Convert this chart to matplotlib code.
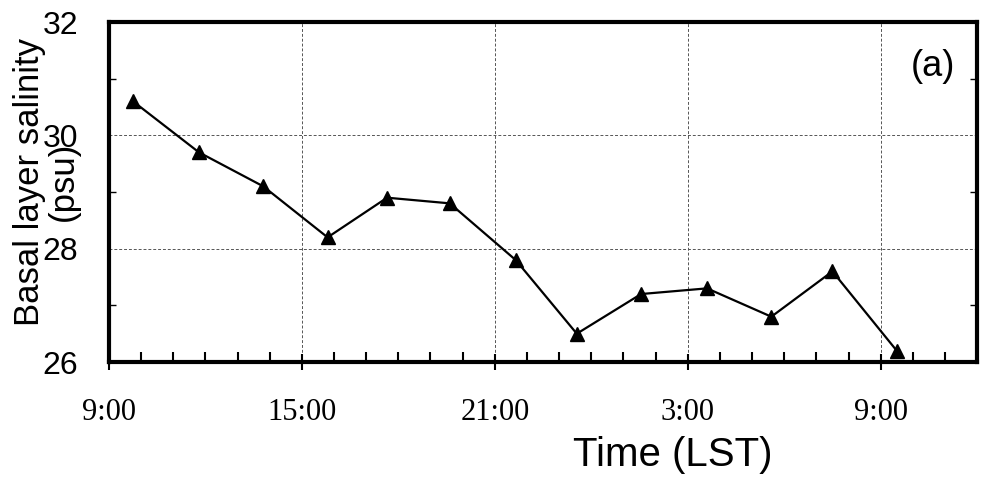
import numpy as np
import matplotlib
matplotlib.use('Agg')
import matplotlib.pyplot as plt
from matplotlib.ticker import MultipleLocator, FixedLocator

# elapsed hours since 9:00 LST on the first day
hours = [0.75, 2.8, 4.8, 6.8, 8.65, 10.6, 12.65, 14.55, 16.55, 18.6, 20.6, 22.5, 24.5]
salinity = [30.6, 29.7, 29.1, 28.2, 28.9, 28.8, 27.8, 26.5, 27.2, 27.3, 26.8, 27.6, 26.2]

tick_hours = [0, 6, 12, 18, 24]
tick_labels = ['9:00', '15:00', '21:00', '3:00', '9:00']
y_ticks = [26, 28, 30, 32]

sans = 'Liberation Sans'
serif = 'Liberation Serif'

fig = plt.figure(figsize=(9.86, 4.84), dpi=100)
ax = fig.add_axes([0.1105, 0.252, 0.8805, 0.7025])

ax.plot(hours, salinity, color='black', lw=1.6, marker='^', ms=10,
        mfc='black', mec='black', zorder=3)

ax.set_xlim(0, 27)
ax.set_ylim(26, 32)

ax.xaxis.set_major_locator(FixedLocator(tick_hours))
ax.xaxis.set_minor_locator(MultipleLocator(1))
ax.set_xticklabels(tick_labels, fontfamily=serif, fontsize=22)
ax.set_yticks(y_ticks)
ax.yaxis.set_minor_locator(MultipleLocator(1))
ax.set_yticklabels([str(v) for v in y_ticks], fontfamily=sans, fontsize=23)

ax.grid(True, which='major', color='#555555', ls=(0, (3, 2)), lw=0.7)
for s in ax.spines.values():
    s.set_linewidth(3)

ax.tick_params(axis='x', which='major', direction='inout', length=12, width=1.5, pad=20)
ax.tick_params(axis='x', which='minor', direction='in', length=7, width=1.5)
ax.tick_params(axis='y', which='major', length=0, pad=22)
ax.tick_params(axis='y', which='minor', direction='in', length=5, width=1, right=True)

ax.text(0.975, 0.87, '(a)', transform=ax.transAxes, ha='right', va='center',
        fontfamily=sans, fontsize=26)

fig.text(0.682, 0.06, 'Time (LST)', ha='center', va='center',
         fontfamily=sans, fontsize=29)
fig.text(0.047, 0.625, 'Basal layer salinity\n(psu)', rotation=90,
         ha='center', va='center', multialignment='center',
         fontfamily=sans, fontsize=25, linespacing=1.05)

fig.savefig('out.png', dpi=100)
